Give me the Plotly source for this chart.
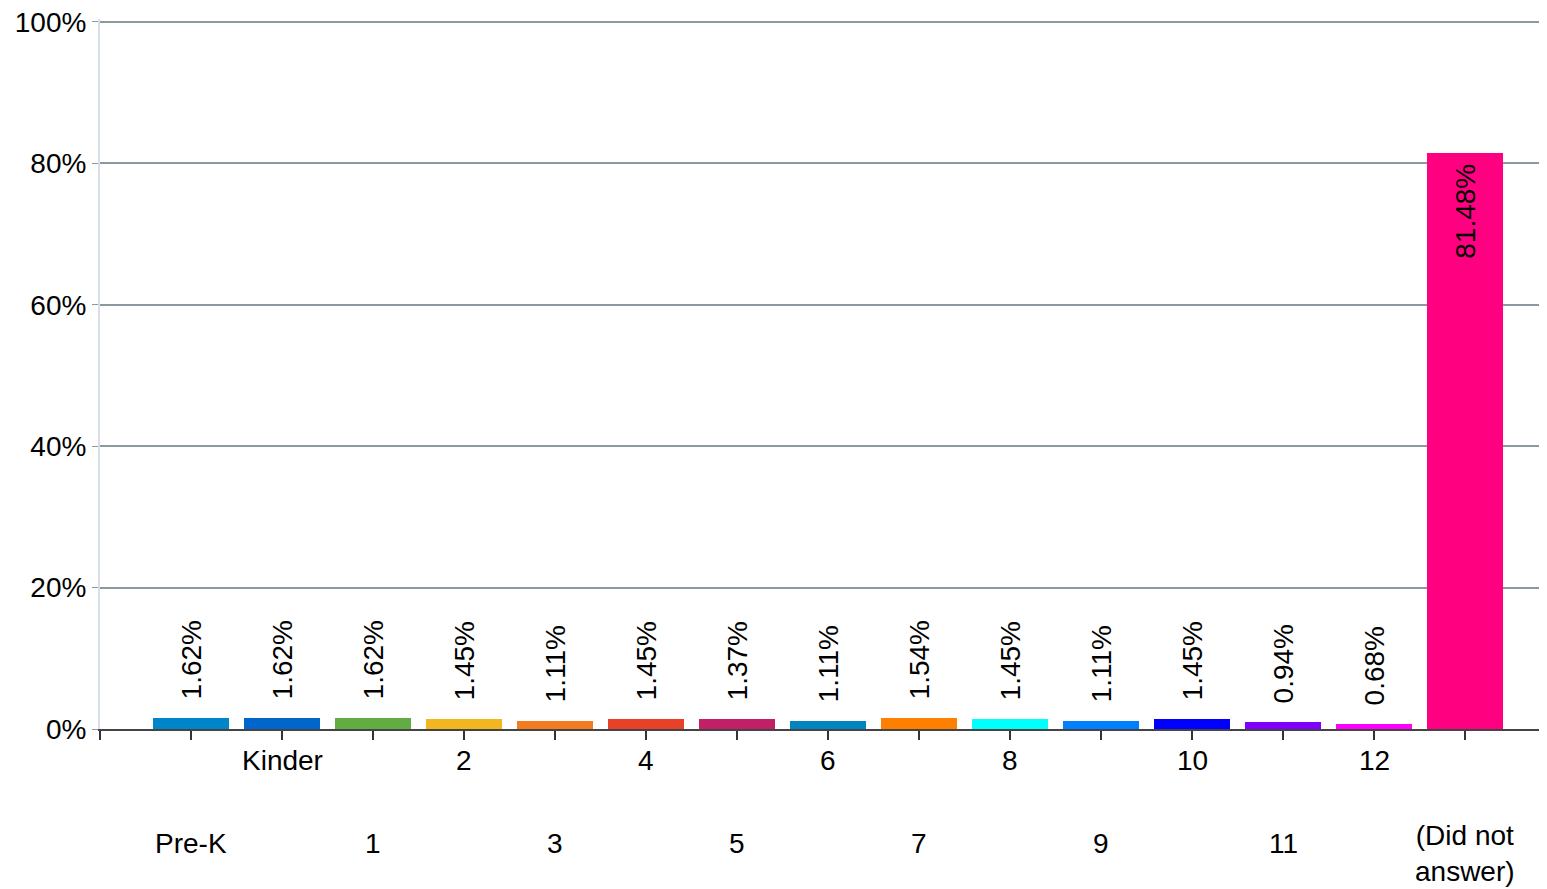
import plotly.graph_objects as go

categories = ["Pre-K", "Kinder", "1", "2", "3", "4", "5", "6", "7", "8",
              "9", "10", "11", "12", "(Did not<br>answer)"]
values = [1.62, 1.62, 1.62, 1.45, 1.11, 1.45, 1.37, 1.11, 1.54, 1.45,
          1.11, 1.45, 0.94, 0.68, 81.48]
colors = ["#0085C8", "#0066CC", "#62AC44", "#F2B620", "#F47B20", "#E8412A",
          "#C11F66", "#0085C0", "#FF7F00", "#00FFFF", "#0080FF", "#0000FF",
          "#7F00FF", "#FF00FF", "#FF0080"]
y_ticks = [0, 20, 40, 60, 80, 100]

font = "Liberation Sans, Arial, sans-serif"
fsize = 28
pos = list(range(1, len(categories) + 1))

# small bars get the label above, the big one inside at the top
text = []
tpos = []
for v in values:
    if v > 50:
        text.append(f"{v:.2f}%\u00a0")
        tpos.append("inside")
    else:
        text.append(f"\u00a0\u00a0{v:.2f}%")
        tpos.append("outside")

fig = go.Figure()
fig.add_trace(go.Bar(
    x=pos, y=values,
    marker=dict(color=colors, line=dict(width=0)),
    width=0.83,
    text=text, textposition=tpos, textangle=-90,
    insidetextanchor="end", constraintext="none", cliponaxis=False,
    textfont=dict(family=font, size=fsize, color="#000000"),
    hovertemplate="%{y:.2f}%<extra></extra>",
))

# staggered category labels: even positions on the upper row, odd on the lower row
for p, cat in zip(pos, categories):
    upper = p % 2 == 0
    fig.add_annotation(
        x=p, y=0, xref="x", yref="paper",
        text=cat, showarrow=False,
        yanchor="middle", yshift=-31 if upper else (-114 if "<br>" not in cat else -124),
        font=dict(family=font, size=fsize, color="#000000"),
    )

# page body has an 8px margin, so the figure is 8px smaller than the window
fig.update_layout(
    width=1539, height=881,
    margin=dict(l=92, r=0, t=11, b=160),
    paper_bgcolor="white", plot_bgcolor="white",
    showlegend=False,
    bargap=0,
)
fig.update_xaxes(
    range=[0, 15.9], tickvals=list(range(0, 16)), ticktext=[""] * 16,
    ticks="outside", ticklen=9, tickwidth=2, tickcolor="#333333",
    showline=True, linecolor="#444444", linewidth=2,
    showgrid=False, zeroline=False,
)
fig.update_yaxes(
    range=[0, 100.4], tickvals=y_ticks, ticktext=[f"{t}%" for t in y_ticks],
    ticks="outside", ticklen=6, tickcolor="#8A9A9E",
    showline=True, linecolor="#D8DEEA", linewidth=2,
    showgrid=True, gridcolor="#8A9A9E", gridwidth=2,
    zeroline=False, automargin=False, ticklabeloverflow="allow",
    tickfont=dict(family=font, size=fsize, color="#000000"),
)

fig.write_html("out.html")
